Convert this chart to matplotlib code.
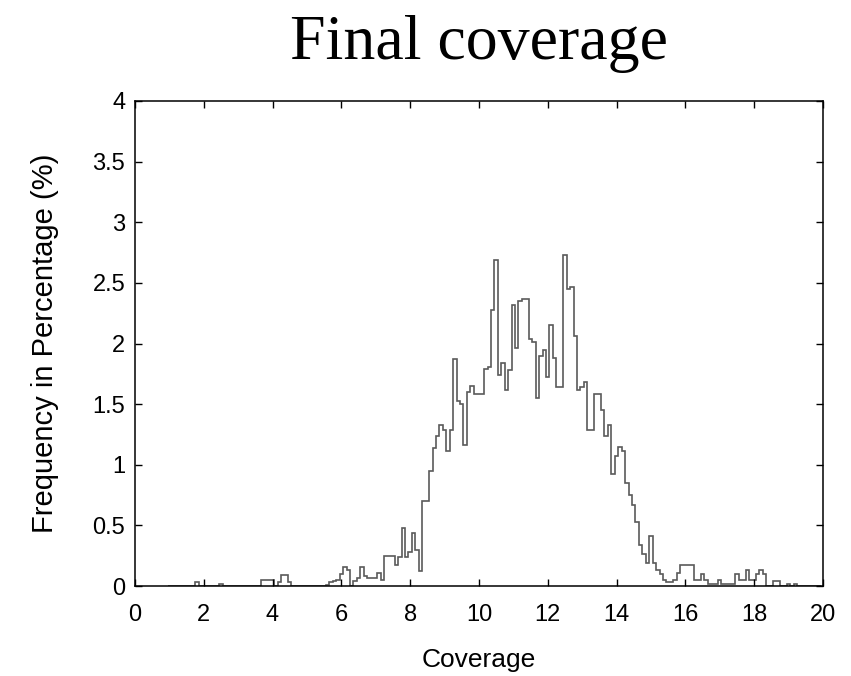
import matplotlib
matplotlib.use("Agg")
import matplotlib.pyplot as plt
import numpy as np
from matplotlib.ticker import FuncFormatter

# histogram of final coverage, bins of width 0.1 centred on 1.0, 1.1, ... 19.9
bin_width = 0.1
first_centre = 1.0
freq_percent = [
    0, 0, 0, 0, 0, 0, 0, 0, 0.03, 0,                                # 1.x
    0, 0, 0, 0, 0, 0.02, 0, 0, 0, 0,                                # 2.x
    0, 0, 0, 0, 0, 0, 0, 0.05, 0.05, 0.05,                          # 3.x
    0.05, 0, 0.03, 0.09, 0.09, 0.03, 0, 0, 0, 0,                    # 4.x
    0, 0, 0, 0, 0, 0, 0.01, 0.03, 0.04, 0.05,                       # 5.x
    0.10, 0.16, 0.13, 0, 0.04, 0.07, 0.16, 0.08, 0.07, 0.07,        # 6.x
    0.07, 0.11, 0.05, 0.25, 0.25, 0.25, 0.17, 0.24, 0.48, 0.24,     # 7.x
    0.28, 0.44, 0.30, 0.12, 0.70, 0.70, 0.95, 1.14, 1.24, 1.33,     # 8.x
    1.29, 1.11, 1.29, 1.87, 1.53, 1.50, 1.16, 1.60, 1.65, 1.58,     # 9.x
    1.58, 1.58, 1.79, 1.81, 2.28, 2.69, 1.74, 1.84, 1.62, 1.78,     # 10.x
    2.32, 1.96, 2.35, 2.37, 2.37, 2.04, 2.01, 1.55, 1.90, 1.95,     # 11.x
    1.72, 2.15, 1.88, 1.64, 1.64, 2.73, 2.45, 2.47, 2.06, 1.62,     # 12.x
    1.64, 1.68, 1.29, 1.29, 1.58, 1.58, 1.45, 1.24, 1.33, 0.92,     # 13.x
    1.07, 1.15, 1.11, 0.85, 0.75, 0.67, 0.53, 0.34, 0.26, 0.19,     # 14.x
    0.41, 0.19, 0.13, 0.10, 0.05, 0.03, 0.03, 0.05, 0.11, 0.17,     # 15.x
    0.17, 0.17, 0.17, 0.05, 0.05, 0.10, 0.05, 0.02, 0.02, 0.02,     # 16.x
    0.05, 0.02, 0.02, 0.02, 0.02, 0.10, 0.05, 0.05, 0.13, 0.05,     # 17.x
    0.05, 0.10, 0.13, 0.10, 0, 0, 0.04, 0.04, 0, 0,                 # 18.x
    0.02, 0, 0.02, 0, 0, 0, 0, 0, 0, 0,                             # 19.x
]
x_ticks = [0, 2, 4, 6, 8, 10, 12, 14, 16, 18, 20]
y_ticks = [0, 0.5, 1, 1.5, 2, 2.5, 3, 3.5, 4]

plt.rcParams['font.family'] = ['Liberation Sans', 'DejaVu Sans']

fig = plt.figure(figsize=(8.51, 6.76), dpi=100)
ax = fig.add_axes([0.1586, 0.1331, 0.8084, 0.7175])

n = len(freq_percent)
edges = first_centre - bin_width / 2 + bin_width * np.arange(n + 1)
ax.stairs(freq_percent, edges, color='#5a5a5a', linewidth=1.2, baseline=0)

ax.set_xlim(0, 20)
ax.set_ylim(0, 4)
ax.set_xticks(x_ticks)
ax.set_yticks(y_ticks)
ax.yaxis.set_major_formatter(FuncFormatter(lambda v, p: f'{v:g}'))

ax.tick_params(direction='in', length=5, width=1, top=True, right=True,
               labelsize=17, colors='black')
ax.tick_params(axis='x', pad=13)
ax.tick_params(axis='y', pad=7)
for s in ax.spines.values():
    s.set_linewidth(1.1)
    s.set_color('black')

ax.set_xlabel('Coverage', fontsize=19, labelpad=16)
ax.set_ylabel('Frequency in Percentage (%)', fontsize=21, labelpad=24)
ax.set_title('Final coverage', fontsize=46, family='Liberation Serif', pad=30)

fig.savefig('out.png', dpi=100)
